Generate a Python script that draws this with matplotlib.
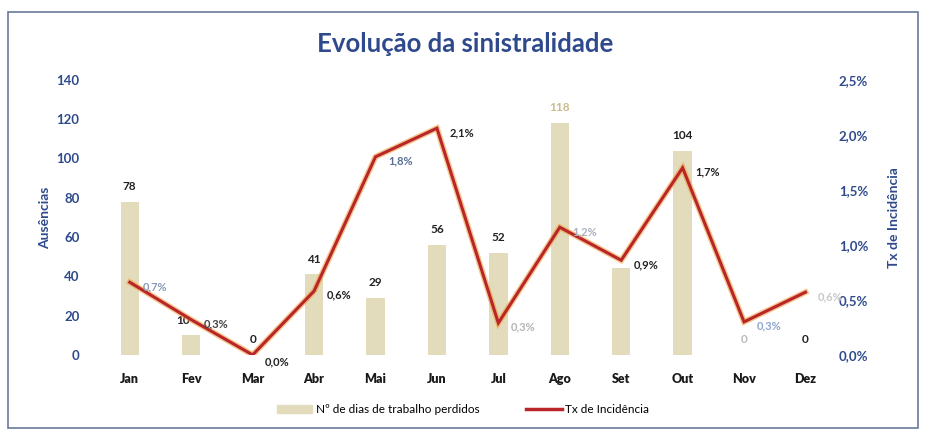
import numpy as np
import matplotlib
matplotlib.use("Agg")
import matplotlib.pyplot as plt
from matplotlib.patches import Rectangle
from matplotlib.lines import Line2D
from matplotlib.ticker import FuncFormatter

months = ["Jan", "Fev", "Mar", "Abr", "Mai", "Jun", "Jul", "Ago", "Set", "Out", "Nov", "Dez"]
dias_perdidos = [78, 10, 0, 41, 29, 56, 52, 118, 44, 104, 0, 0]
tx_incidencia = [0.66, 0.32, 0.0, 0.58, 1.80, 2.06, 0.29, 1.16, 0.86, 1.70, 0.30, 0.57]
left_ticks = [0, 20, 40, 60, 80, 100, 120, 140]
right_ticks = [0.0, 0.5, 1.0, 1.5, 2.0, 2.5]

BLUE = "#2f4a8c"
BAR = "#e3dcbc"
RED = "#b8262a"

plt.rcParams["font.family"] = ["Lato", "DejaVu Sans"]

fig = plt.figure(figsize=(9.26, 4.36), dpi=100)
fig.patch.set_facecolor("white")
ax = fig.add_axes([0.107, 0.186, 0.796, 0.631])
ax2 = ax.twinx()

x = np.arange(len(months))
ax.bar(x, dias_perdidos, width=0.3, color=BAR, zorder=1)
ax.set_xlim(-0.5, 11.5)
ax.set_ylim(0, 140)
ax.set_yticks(left_ticks)

# line with a faint orange halo under the red stroke
ax2.plot(x, tx_incidencia, color="#f0a040", lw=4.2, alpha=0.6, zorder=2, solid_joinstyle="miter")
ax2.plot(x, tx_incidencia, color=RED, lw=2.2, zorder=3, solid_joinstyle="miter")
ax2.set_ylim(0, 2.5)
ax2.set_yticks(right_ticks)
ax2.yaxis.set_major_formatter(FuncFormatter(lambda v, p: f"{v:.1f}%".replace(".", ",")))

for a in (ax, ax2):
    for s in a.spines.values():
        s.set_visible(False)
    a.tick_params(length=0)
    a.patch.set_visible(False)

ax.set_xticks(x)
ax.set_xticklabels(months, fontsize=9, fontweight="heavy", color="#1a1a1a")
ax.tick_params(axis="x", pad=13)
ax.tick_params(axis="y", labelsize=9.5, labelcolor=BLUE, pad=14)
ax2.tick_params(axis="y", labelsize=9.5, labelcolor=BLUE, pad=2)
for lbl in ax.get_yticklabels() + ax2.get_yticklabels():
    lbl.set_fontweight("bold")

ax.set_ylabel("Ausências", fontsize=10, fontweight="bold", color=BLUE, labelpad=4)
ax2.set_ylabel("Tx de Incidência", fontsize=10, fontweight="bold", color=BLUE,
               rotation=90, labelpad=14)

# bar value labels
bar_colors = ["#222"] * 12
bar_colors[7] = "#c9bb8e"
bar_colors[10] = "#bbbbbb"
for i, v in enumerate(dias_perdidos):
    if i == 8:
        continue
    dx = -6 if i == 1 else 0
    ax.annotate(str(v), (i, v), xytext=(dx, 7), textcoords="offset points",
                ha="center", va="bottom", fontsize=8.5, fontweight="bold",
                color=bar_colors[i], zorder=5)

# rate labels beside each point
line_colors = ["#8a9ab8", "#444", "#222", "#222", "#5a6f96", "#222",
               "#b5b5b5", "#a8b0c0", "#222", "#222", "#8fa6cc", "#c8c8c8"]
for i, v in enumerate(tx_incidencia):
    dy = -5 if i == 2 else -3
    ax2.annotate(f"{v:.1f}%".replace(".", ","), (i, v), xytext=(9, dy),
                 textcoords="offset points", ha="left", va="center",
                 fontsize=8, fontweight="bold", color=line_colors[i], zorder=5)

fig.text(0.502, 0.9, "Evolução da sinistralidade", ha="center", va="center",
         fontsize=18.5, fontweight="bold", color=BLUE)

handles = [Rectangle((0, 0), 1, 1, color=BAR),
           Line2D([0], [0], color=RED, lw=2.5)]
fig.legend(handles, ["Nº de dias de trabalho perdidos", "Tx de Incidência"],
           loc="center", bbox_to_anchor=(0.5, 0.06), ncol=2, frameon=False,
           fontsize=8.5, handlelength=3, columnspacing=4, handletextpad=0.3)

fig.add_artist(Rectangle((0.009, 0.018), 0.982, 0.954, transform=fig.transFigure,
                         fill=False, edgecolor="#6a7a9a", lw=1.2))

fig.savefig("out.png", dpi=100)
